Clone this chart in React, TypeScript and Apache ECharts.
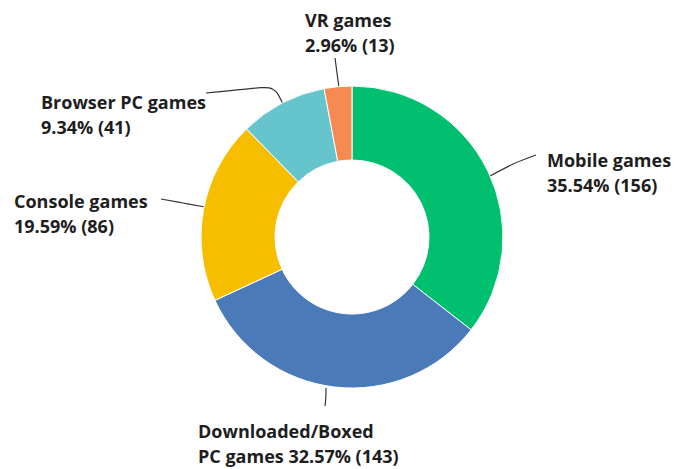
import React, { useEffect, useRef } from "react";
import * as echarts from "echarts";

const categories = ["Mobile games", "Downloaded/Boxed\nPC games", "Console games", "Browser PC games", "VR games"];
const values = [156, 143, 86, 41, 13];
const colors = ["#00BF6F", "#4A7AB8", "#F7BE00", "#66C4CD", "#F68A50"];
const separators = ["\n", " ", "\n", "\n", "\n"];

const labelPos = [
  { x: 547, y: 172, align: "left", line: [[490, 176], [514, 163], [536, 155]] },
  { x: 198, y: 443, align: "left", line: [[326, 388], [326, 397], [325, 406]] },
  { x: 14, y: 213, align: "left", line: [[205, 207], [183, 203], [161, 199]] },
  { x: 41, y: 114, align: "left", line: [[283, 104], [274, 86], [206, 93]] },
  { x: 305, y: 32, align: "left", line: [[339, 88], [337, 73], [335, 58]] },
];

export default function App() {
  const ref = useRef<HTMLDivElement>(null);
  useEffect(() => {
    const chart = echarts.init(ref.current!, null, { renderer: "svg" });
    chart.setOption({
      animation: false,
      backgroundColor: "#ffffff",
      series: [
        {
          type: "pie",
          center: [352, 237],
          radius: [77, 151],
          startAngle: 90,
          clockwise: true,
          avoidLabelOverlap: false,
          itemStyle: { borderColor: "#ffffff", borderWidth: 1 },
          label: {
            show: true,
            position: "outside",
            fontFamily: "Open Sans",
            fontWeight: "bold",
            fontSize: 18,
            lineHeight: 25,
            color: "#1e1e1e",
            formatter: (p: any) => `${p.name}${separators[p.dataIndex]}${p.percent.toFixed(2)}% (${p.value})`,
          },
          labelLine: { show: true, lineStyle: { color: "#333333", width: 1.2 }, smooth: 0.3 },
          labelLayout: (params: any) => {
            const lp = labelPos[params.dataIndex];
            return {
              x: lp.x,
              y: lp.y,
              align: lp.align,
              verticalAlign: "middle",
              labelLinePoints: lp.line,
            };
          },
          data: categories.map((name, i) => ({
            name,
            value: values[i],
            itemStyle: { color: colors[i] },
          })),
        },
      ],
    });
    return () => chart.dispose();
  }, []);
  return <div ref={ref} style={{ position: "absolute", left: 0, top: 0, width: 678, height: 469 }} />;
}
